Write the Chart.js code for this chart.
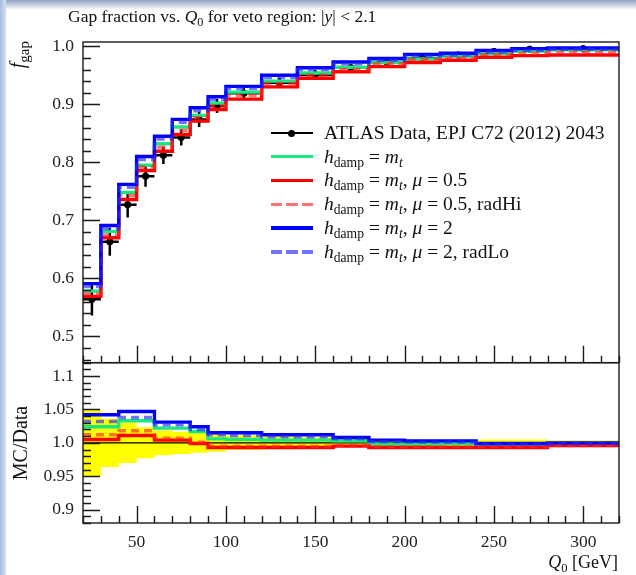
<!DOCTYPE html>
<html>
<head>
<meta charset="utf-8">
<script src="https://cdn.jsdelivr.net/npm/chart.js@4.4.1/dist/chart.umd.min.js"></script>
<style>
  html, body { margin: 0; padding: 0; }
  body { width: 636px; height: 575px; position: relative; overflow: hidden; background: #fff;
         font-family: "Liberation Serif", "DejaVu Serif", serif; color: #111; }
  #bgTop { position: absolute; left: 0; top: 0; width: 636px; height: 10px;
           background: linear-gradient(#8ea2c1, #ffffff); }
  #bgLeft { position: absolute; left: 0; top: 0; width: 6px; height: 575px;
            background: linear-gradient(to right, #a7bcdf, #d6e1f3); }
  #c { position: absolute; left: 0; top: 0; }
  .txt { position: absolute; white-space: nowrap; }
  #title { left: 68px; top: 6px; font-size: 17.5px; }
  #ylab { left: 6px; top: 41px; font-size: 20px; transform-origin: 0 0;
          transform: rotate(-90deg) translate(-100%, 0); }
  #ylab sub { font-size: 75%; }
  #rlab { left: 9px; top: 443px; font-size: 20px; transform-origin: 0 0;
          transform: rotate(-90deg) translate(-50%, 0); }
  #xlab { right: 18px; top: 552px; font-size: 18px; }
  sub { font-size: 70%; vertical-align: -0.3em; line-height: 0; }
  #legend { position: absolute; left: 271px; top: 121px; font-size: 19.5px; }
  .row { height: 23.8px; display: flex; align-items: center; }
  .sample { width: 42px; height: 3.5px; margin-right: 11px; position: relative; flex: none; }
  .dot { position: absolute; left: 17px; top: -2.5px; width: 7px; height: 7px;
         border-radius: 50%; background: #000; }
</style>
</head>
<body>
<div id="bgTop"></div>
<div id="bgLeft"></div>
<canvas id="c" width="636" height="575"></canvas>
<div class="txt" id="title">Gap fraction vs. <i>Q</i><sub>0</sub> for veto region: |<i>y</i>| &lt; 2.1</div>
<div class="txt" id="ylab"><i>f</i><sub>gap</sub></div>
<div class="txt" id="rlab">MC/Data</div>
<div class="txt" id="xlab"><i>Q</i><sub>0</sub> [GeV]</div>
<div id="legend"></div>
<script>
// bins in Q0 [GeV]
const binEdges = [20, 30, 40, 50, 60, 70, 80, 90, 100, 120, 140, 160, 180, 200, 220, 240, 260, 280, 320];

// ATLAS data (gap fraction) and its uncertainty
const atlasData = [0.564, 0.663, 0.727, 0.776, 0.812, 0.843, 0.874, 0.897, 0.919, 0.937, 0.951, 0.963, 0.973, 0.980, 0.985, 0.991, 0.995, 0.996];
const atlasErr  = [0.028, 0.024, 0.022, 0.018, 0.015, 0.014, 0.013, 0.012, 0.010, 0.009, 0.008, 0.006, 0.005, 0.005, 0.005, 0.005, 0.005, 0.004];

// MC predictions, main panel
const hdampMt    = [0.578, 0.681, 0.748, 0.795, 0.832, 0.861, 0.881, 0.902, 0.921, 0.940, 0.954, 0.964, 0.972, 0.978, 0.983, 0.988, 0.992, 0.994];
const mu05       = [0.569, 0.670, 0.736, 0.786, 0.819, 0.848, 0.871, 0.891, 0.909, 0.930, 0.945, 0.956, 0.965, 0.972, 0.976, 0.981, 0.984, 0.985];
const mu05RadHi  = [0.573, 0.675, 0.743, 0.792, 0.826, 0.855, 0.877, 0.897, 0.915, 0.936, 0.950, 0.960, 0.970, 0.977, 0.980, 0.986, 0.988, 0.990];
const mu2        = [0.591, 0.691, 0.762, 0.810, 0.845, 0.874, 0.894, 0.913, 0.931, 0.950, 0.963, 0.973, 0.979, 0.986, 0.988, 0.993, 0.996, 0.997];
const mu2RadLo   = [0.586, 0.686, 0.757, 0.805, 0.840, 0.869, 0.889, 0.908, 0.927, 0.946, 0.960, 0.970, 0.976, 0.983, 0.985, 0.990, 0.993, 0.995];

// MC / Data, ratio panel
const rHdampMt   = [1.024, 1.024, 1.033, 1.033, 1.022, 1.022, 1.017, 1.006, 1.005, 1.004, 1.004, 1.003, 0.998, 0.998, 0.999, 0.998, 0.998, 0.999];
const rMu05      = [1.005, 1.005, 1.011, 1.011, 1.004, 1.004, 0.999, 0.993, 0.993, 0.993, 0.993, 0.995, 0.993, 0.993, 0.993, 0.993, 0.993, 0.996];
const rMu05RadHi = [1.012, 1.012, 1.018, 1.018, 1.007, 1.007, 1.001, 0.995, 0.995, 0.995, 0.995, 0.996, 0.994, 0.994, 0.994, 0.994, 0.994, 0.996];
const rMu2       = [1.042, 1.042, 1.047, 1.047, 1.031, 1.031, 1.024, 1.015, 1.015, 1.012, 1.012, 1.008, 1.004, 1.003, 1.003, 0.999, 0.999, 1.000];
const rMu2RadLo  = [1.032, 1.032, 1.038, 1.038, 1.027, 1.027, 1.020, 1.012, 1.011, 1.009, 1.009, 1.006, 1.002, 1.001, 1.001, 0.998, 0.998, 0.999];

// tick labels
const xTickLabels = ['50', '100', '150', '200', '250', '300'];
const topTickLabels = ['0.5', '0.6', '0.7', '0.8', '0.9', '1.0'];
const ratioTickLabels = ['0.9', '0.95', '1.0', '1.05', '1.1'];

const legendLabels = [
  'ATLAS Data, EPJ C72 (2012) 2043',
  '<i>h</i><sub>damp</sub> = <i>m<sub>t</sub></i>',
  '<i>h</i><sub>damp</sub> = <i>m<sub>t</sub></i>, <i>μ</i> = 0.5',
  '<i>h</i><sub>damp</sub> = <i>m<sub>t</sub></i>, <i>μ</i> = 0.5, radHi',
  '<i>h</i><sub>damp</sub> = <i>m<sub>t</sub></i>, <i>μ</i> = 2',
  '<i>h</i><sub>damp</sub> = <i>m<sub>t</sub></i>, <i>μ</i> = 2, radLo'
];

const green = '#19e87f', red = '#ff0000', redDash = 'rgba(255,40,40,0.65)',
      blue = '#0000ff', blueDash = 'rgba(40,40,255,0.65)';

// legend
const styles = [null, [green, false], [red, false], [redDash, true], [blue, false], [blueDash, true]];
let html = '';
legendLabels.forEach((lab, i) => {
  let sample;
  if (i === 0) {
    sample = '<span class="sample" style="height:1.5px;background:#000"><span class="dot"></span></span>';
  } else {
    const [col, dash] = styles[i];
    const bg = dash ? `repeating-linear-gradient(to right, ${col} 0 11px, transparent 11px 15.5px)` : col;
    sample = `<span class="sample" style="background:${bg}"></span>`;
  }
  html += `<div class="row">${sample}<span>${lab}</span></div>`;
});
document.getElementById('legend').innerHTML = html;

// points at the bin edges, the last value repeated at the upper edge
function steps(vals) {
  return binEdges.map((e, i) => ({x: e, y: vals[Math.min(i, vals.length - 1)]}));
}
const centers = atlasData.map((v, i) => ({x: (binEdges[i] + binEdges[i + 1]) / 2, y: v}));

function mcSet(vals, col, dash, axis, order) {
  return {data: steps(vals), yAxisID: axis, borderColor: col, borderWidth: 3.4, borderDash: dash ? [8, 5] : [],
          stepped: 'before', pointRadius: 0, fill: false, order: order};
}

const datasets = [
  {data: centers, yAxisID: 'y', showLine: false, pointRadius: 3.2, pointBackgroundColor: '#000',
   pointBorderColor: '#000', order: 10},
  mcSet(hdampMt, green, false, 'y', 5),
  mcSet(mu05, red, false, 'y', 4),
  mcSet(mu05RadHi, redDash, true, 'y', 3),
  mcSet(mu2, blue, false, 'y', 2),
  mcSet(mu2RadLo, blueDash, true, 'y', 1),
  // data uncertainty band in the ratio panel
  {data: steps(atlasData.map((v, i) => 1 - atlasErr[i] / v)), yAxisID: 'yr', stepped: 'before',
   borderWidth: 0, borderColor: 'rgba(0,0,0,0)', pointRadius: 0, fill: false, order: 20},
  {data: steps(atlasData.map((v, i) => 1 + atlasErr[i] / v)), yAxisID: 'yr', stepped: 'before',
   borderWidth: 0, borderColor: 'rgba(0,0,0,0)', pointRadius: 0, fill: '-1', backgroundColor: '#ffff00', order: 19},
  {data: [{x: binEdges[0], y: 1}, {x: binEdges[binEdges.length - 1], y: 1}], yAxisID: 'yr',
   borderColor: '#000', borderWidth: 1.2, pointRadius: 0, fill: false, order: 15},
  mcSet(rHdampMt, green, false, 'yr', 5),
  mcSet(rMu05, red, false, 'yr', 4),
  mcSet(rMu05RadHi, redDash, true, 'yr', 3),
  mcSet(rMu2, blue, false, 'yr', 2),
  mcSet(rMu2RadLo, blueDash, true, 'yr', 1)
];

// error bars on the data points (drawn beneath the MC lines)
const errorBars = {
  id: 'errorBars',
  beforeDatasetsDraw(chart) {
    const {ctx} = chart;
    const x = chart.scales.x, y = chart.scales.y;
    ctx.save();
    ctx.strokeStyle = '#000';
    ctx.lineWidth = 2.5;
    atlasData.forEach((v, i) => {
      const xc = x.getPixelForValue((binEdges[i] + binEdges[i + 1]) / 2);
      const yc = y.getPixelForValue(v);
      ctx.beginPath();
      ctx.moveTo(x.getPixelForValue(binEdges[i]), yc);
      ctx.lineTo(x.getPixelForValue(binEdges[i + 1]), yc);
      ctx.moveTo(xc, y.getPixelForValue(v - atlasErr[i]));
      ctx.lineTo(xc, y.getPixelForValue(v + atlasErr[i]));
      ctx.stroke();
    });
    ctx.restore();
  }
};

// frames and inward ticks, rivet style
const frameTicks = {
  id: 'frameTicks',
  afterDatasetsDraw(chart) {
    const {ctx} = chart;
    const x = chart.scales.x;
    ctx.save();
    ctx.strokeStyle = '#1a1a1a';
    ctx.lineWidth = 1.4;
    [[chart.scales.y, topTickLabels], [chart.scales.yr, ratioTickLabels]].forEach(([ys, labs]) => {
      ctx.strokeRect(x.left, ys.top, x.right - x.left, ys.bottom - ys.top);
      ctx.beginPath();
      ys.ticks.forEach(t => {
        const major = labs.some(l => Math.abs(parseFloat(l) - t.value) < 1e-6);
        const py = Math.round(ys.getPixelForValue(t.value)) + 0.5;
        ctx.moveTo(x.left, py);
        ctx.lineTo(x.left + (major ? 17 : 8), py);
      });
      x.ticks.forEach(t => {
        const major = xTickLabels.includes(String(t.value));
        const px = Math.round(x.getPixelForValue(t.value)) + 0.5;
        ctx.moveTo(px, ys.bottom);
        ctx.lineTo(px, ys.bottom - (major ? 17 : 7));
      });
      ctx.stroke();
    });
    ctx.restore();
  }
};

function minorTicks(step) {
  return function(scale) {
    const ticks = [];
    for (let k = Math.ceil(scale.min / step - 1e-6); k * step <= scale.max + 1e-9; k++) {
      ticks.push({value: +(k * step).toFixed(4)});
    }
    scale.ticks = ticks;
  };
}
function labelFrom(labs) {
  return function(value) {
    const l = labs.find(s => Math.abs(parseFloat(s) - value) < 1e-6);
    return l === undefined ? '' : l;
  };
}

const tickFont = {family: "'Liberation Serif', serif", size: 17.5};
const noGrid = {display: false, drawTicks: false};

new Chart(document.getElementById('c'), {
  type: 'line',
  data: {datasets: datasets},
  options: {
    responsive: false,
    animation: false,
    events: [],
    layout: {padding: {top: 42, right: 17, left: 0, bottom: 0}},
    plugins: {legend: {display: false}, tooltip: {enabled: false}},
    scales: {
      x: {
        type: 'linear', min: 20, max: 320,
        grid: noGrid, border: {display: false},
        ticks: {autoSkip: false, maxRotation: 0, padding: 9, color: '#222', font: tickFont,
                callback: labelFrom(xTickLabels)},
        afterBuildTicks: minorTicks(10),
        afterFit: s => { s.height = 52; }
      },
      yr: {
        type: 'linear', position: 'left', stack: 'panels', stackWeight: 1,
        min: 0.88, max: 1.12,
        grid: noGrid, border: {display: false},
        ticks: {autoSkip: false, padding: 9, color: '#222', font: tickFont,
                callback: labelFrom(ratioTickLabels)},
        afterBuildTicks: minorTicks(0.01),
        afterFit: s => { s.width = 83; }
      },
      y: {
        type: 'linear', position: 'left', stack: 'panels', stackWeight: 2,
        min: 0.4547, max: 1.0074,
        grid: noGrid, border: {display: false},
        ticks: {autoSkip: false, padding: 9, color: '#222', font: tickFont,
                callback: labelFrom(topTickLabels)},
        afterBuildTicks: minorTicks(0.02),
        afterFit: s => { s.width = 83; }
      }
    }
  },
  plugins: [errorBars, frameTicks]
});
</script>
</body>
</html>
